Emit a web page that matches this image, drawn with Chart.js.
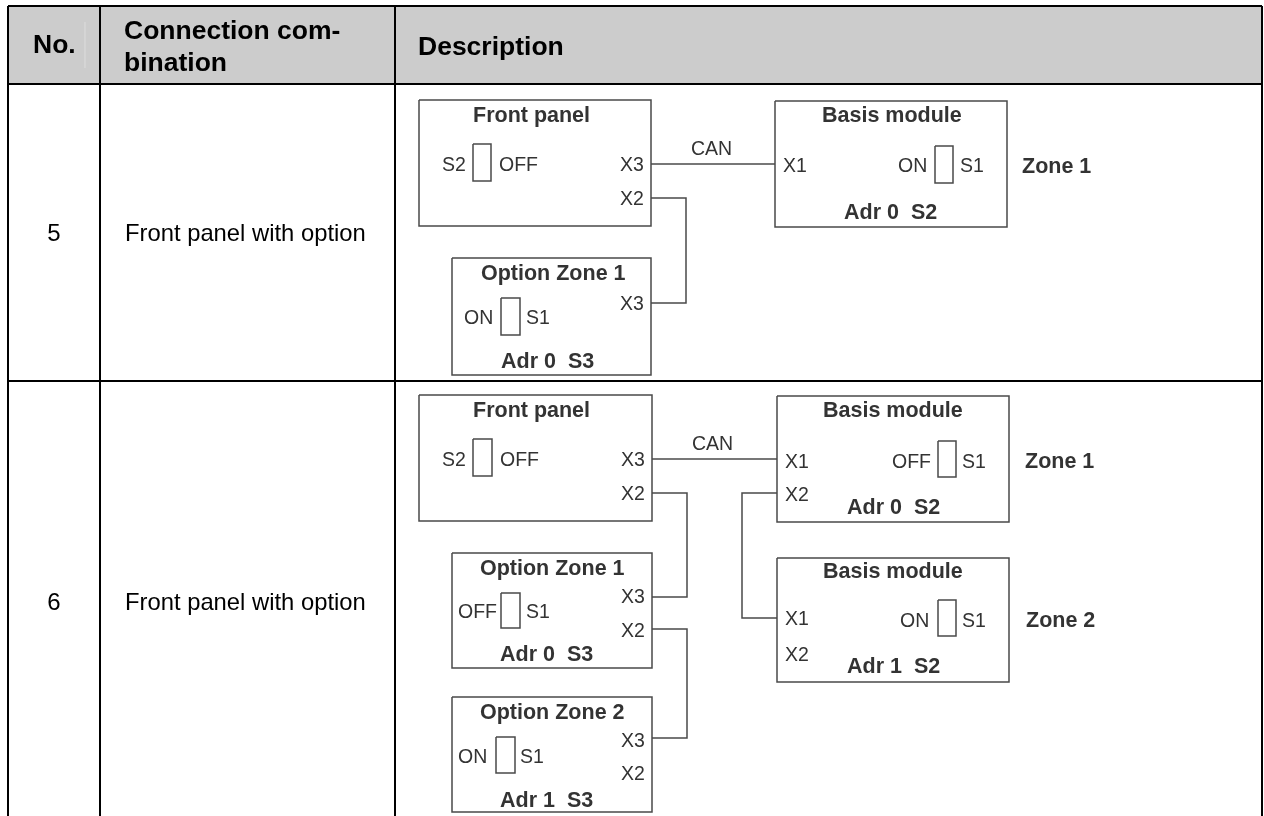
<!DOCTYPE html>
<html>
<head>
<meta charset="utf-8">
<title>Connection combination</title>
<script src="https://cdn.jsdelivr.net/npm/chart.js@4"></script>
<style>
  html, body { margin: 0; padding: 0; background: #fff; overflow: hidden; }
  canvas { display: block; }
</style>
</head>
<body>
<canvas id="chart" width="1264" height="816"></canvas>
<script>
// table frame, in picture coordinates
var header_band = [[8, 6], [1262, 6], [1262, 84], [8, 84], [8, 6]]
var table_lines = [
  [[8, 6], [1262, 6]],
  [[8, 84], [1262, 84]],
  [[8, 381], [1262, 381]],
  [[8, 6], [8, 816]],
  [[100, 6], [100, 816]],
  [[395, 6], [395, 816]],
  [[1262, 6], [1262, 816]]
]
var faint_lines = [[[85, 22], [85, 68]]]

// boxes are x1, y1, x2, y2
var module_boxes = [
  [419, 100, 651, 226], [452, 258, 651, 375], [775, 101, 1007, 227],
  [419, 395, 652, 521], [452, 553, 652, 668], [452, 697, 652, 812],
  [777, 396, 1009, 522], [777, 558, 1009, 682]
]
var switch_boxes = [
  [473, 144, 491, 181], [501, 298, 520, 335], [935, 146, 953, 183],
  [473, 439, 492, 476], [501, 593, 520, 628], [496, 737, 515, 773],
  [938, 441, 956, 477], [938, 600, 956, 636]
]
var wires = [
  [[651, 164], [775, 164]],
  [[651, 198], [686, 198], [686, 303], [651, 303]],
  [[652, 459], [777, 459]],
  [[652, 493], [687, 493], [687, 597], [652, 597]],
  [[652, 629], [687, 629], [687, 738], [652, 738]],
  [[777, 493], [742, 493], [742, 618], [777, 618]]
]

// text is label, x, baseline y
var header_labels = [
  ['No.', 33, 53], ['Connection com-', 124, 39], ['bination', 124, 71], ['Description', 418, 55]
]
var row_numbers = [['5', 54, 241], ['6', 54, 610]]
var row_names = [['Front panel with option', 125, 241], ['Front panel with option', 125, 610]]
var bold_labels = [
  ['Front panel', 473, 122], ['Option Zone 1', 481, 280], ['Adr 0  S3', 501, 368],
  ['Basis module', 822, 122], ['Adr 0  S2', 844, 219], ['Zone 1', 1022, 173],
  ['Front panel', 473, 417], ['Option Zone 1', 480, 575], ['Adr 0  S3', 500, 661],
  ['Option Zone 2', 480, 719], ['Adr 1  S3', 500, 807],
  ['Basis module', 823, 417], ['Adr 0  S2', 847, 514], ['Zone 1', 1025, 468],
  ['Basis module', 823, 578], ['Adr 1  S2', 847, 673], ['Zone 2', 1026, 627]
]
var plain_labels = [
  ['S2', 442, 171], ['OFF', 499, 171], ['X3', 620, 171], ['X2', 620, 205], ['CAN', 691, 155],
  ['ON', 464, 324], ['S1', 526, 324], ['X3', 620, 310],
  ['X1', 783, 172], ['ON', 898, 172], ['S1', 960, 172],
  ['S2', 442, 466], ['OFF', 500, 466], ['X3', 621, 466], ['X2', 621, 500], ['CAN', 692, 450],
  ['X3', 621, 603], ['OFF', 458, 618], ['S1', 526, 618], ['X2', 621, 637],
  ['X3', 621, 747], ['ON', 458, 763], ['S1', 520, 763], ['X2', 621, 780],
  ['X1', 785, 468], ['OFF', 892, 468], ['S1', 962, 468], ['X2', 785, 501],
  ['X1', 785, 625], ['ON', 900, 627], ['S1', 962, 627], ['X2', 785, 661]
]

function toPoints(line) {
  return line.map(function (p) { return { x: p[0], y: p[1] } })
}

function boxToLine(b) {
  return [[b[0], b[1]], [b[2], b[1]], [b[2], b[3]], [b[0], b[3]], [b[0], b[1]]]
}

function lineDataset(line, color, width) {
  return {
    data: toPoints(line),
    showLine: true,
    borderColor: color,
    borderWidth: width,
    pointRadius: 0,
    clip: false,
    tension: 0
  }
}

var datasets = []
for (let i in table_lines) datasets.push(lineDataset(table_lines[i], '#000', 2))
for (let i in faint_lines) datasets.push(lineDataset(faint_lines[i], '#d6d6d6', 1))
for (let i in module_boxes) datasets.push(lineDataset(boxToLine(module_boxes[i]), '#4a4a4a', 1.5))
for (let i in switch_boxes) datasets.push(lineDataset(boxToLine(switch_boxes[i]), '#4a4a4a', 1.5))
for (let i in wires) datasets.push(lineDataset(wires[i], '#4a4a4a', 1.5))

var band = lineDataset(header_band, '#cccccc', 0)
band.fill = 'shape'
band.backgroundColor = '#cccccc'
datasets.push(band)

// labels go through the same scales as the lines
var textPlugin = {
  id: 'tableText',
  afterDatasetsDraw: function (chart) {
    var ctx = chart.ctx
    var xs = chart.scales.x
    var ys = chart.scales.y
    function put(list, font, color, align) {
      ctx.font = font
      ctx.fillStyle = color
      ctx.textAlign = align
      ctx.textBaseline = 'alphabetic'
      for (let i in list) {
        ctx.fillText(list[i][0], xs.getPixelForValue(list[i][1]), ys.getPixelForValue(list[i][2]))
      }
    }
    ctx.save()
    put(header_labels, 'bold 26.5px "Liberation Sans"', '#000', 'left')
    put(row_numbers, '24px "Liberation Sans"', '#000', 'center')
    put(row_names, '23.8px "Liberation Sans"', '#000', 'left')
    put(bold_labels, 'bold 21.5px "Liberation Sans"', '#333', 'left')
    put(plain_labels, '19.5px "Liberation Sans"', '#333', 'left')
    ctx.restore()
  }
}

new Chart(document.getElementById('chart'), {
  type: 'scatter',
  data: { datasets: datasets },
  options: {
    responsive: false,
    animation: false,
    layout: { padding: 0 },
    plugins: { legend: { display: false }, tooltip: { enabled: false }, title: { display: false } },
    scales: {
      x: { type: 'linear', min: 0, max: 1264, display: false },
      y: { type: 'linear', min: 0, max: 816, reverse: true, display: false }
    }
  },
  plugins: [textPlugin]
})
</script>
</body>
</html>
